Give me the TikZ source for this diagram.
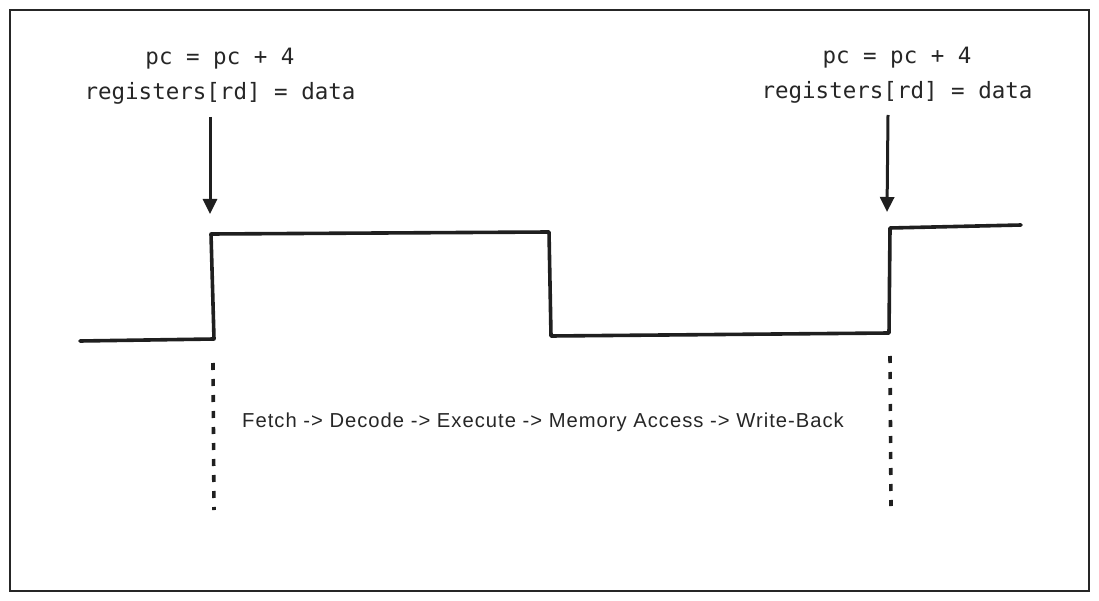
\documentclass[tikz,border=0pt]{standalone}
\usepackage{fontspec}
\setmonofont{DejaVu Sans Mono}
\newfontfamily\handfont[LetterSpace=5]{Liberation Sans}
\usetikzlibrary{arrows.meta}
\begin{document}
\begin{tikzpicture}[x=1pt,y=-1pt,
  codetext/.style={font=\ttfamily\fontsize{22.5}{35}\selectfont, text=black!85, align=center, inner sep=0pt},
  handtext/.style={font=\handfont\fontsize{20.2}{24}\selectfont, text=black!85, inner sep=0pt},
  wave/.style={line width=3.6pt, draw=black!88, line join=round, line cap=round},
  pointer/.style={line width=3pt, draw=black!88, -{Triangle[length=15pt,width=14pt]}},
  tick/.style={line width=3.6pt, draw=black!88, dash pattern=on 7pt off 9pt}]
\useasboundingbox (0,0) rectangle (1099,601);
\draw[line width=2pt, draw=black!85] (10,10) rectangle (1089,591);
% labels
\node[codetext] (l1) at (220,76) {pc = pc + 4\\registers[rd] = data};
\node[codetext] (l2) at (897,75) {pc = pc + 4\\registers[rd] = data};
% arrows
\coordinate (a1s) at (210,117);
\coordinate (a1e) at (210,214);
\coordinate (a2s) at (888,115);
\coordinate (a2e) at (887,212);
\draw[pointer] (a1s) -- (a1e);
\draw[pointer] (a2s) -- (a2e);
% waveform
\coordinate (w0) at (80,341);
\coordinate (w1) at (214,339);
\coordinate (w2) at (211,234);
\coordinate (w3) at (549,232);
\coordinate (w4) at (551,336);
\coordinate (w5) at (889,333);
\coordinate (w6) at (890,228);
\coordinate (w7) at (1021,225);
\draw[wave] (w0) -- (w1) -- (w2) -- (w3) -- (w4) -- (w5) -- (w6) -- (w7);
% dotted markers
\coordinate (d1s) at (213,363);
\coordinate (d1e) at (214,510);
\coordinate (d2s) at (890,356);
\coordinate (d2e) at (891,506);
\draw[tick] (d1s) -- (d1e);
\draw[tick] (d2s) -- (d2e);
% stages
\node[handtext, anchor=west] (stages) at (242,422) {Fetch -> Decode -> Execute -> Memory Access -> Write-Back};
\end{tikzpicture}
\end{document}
